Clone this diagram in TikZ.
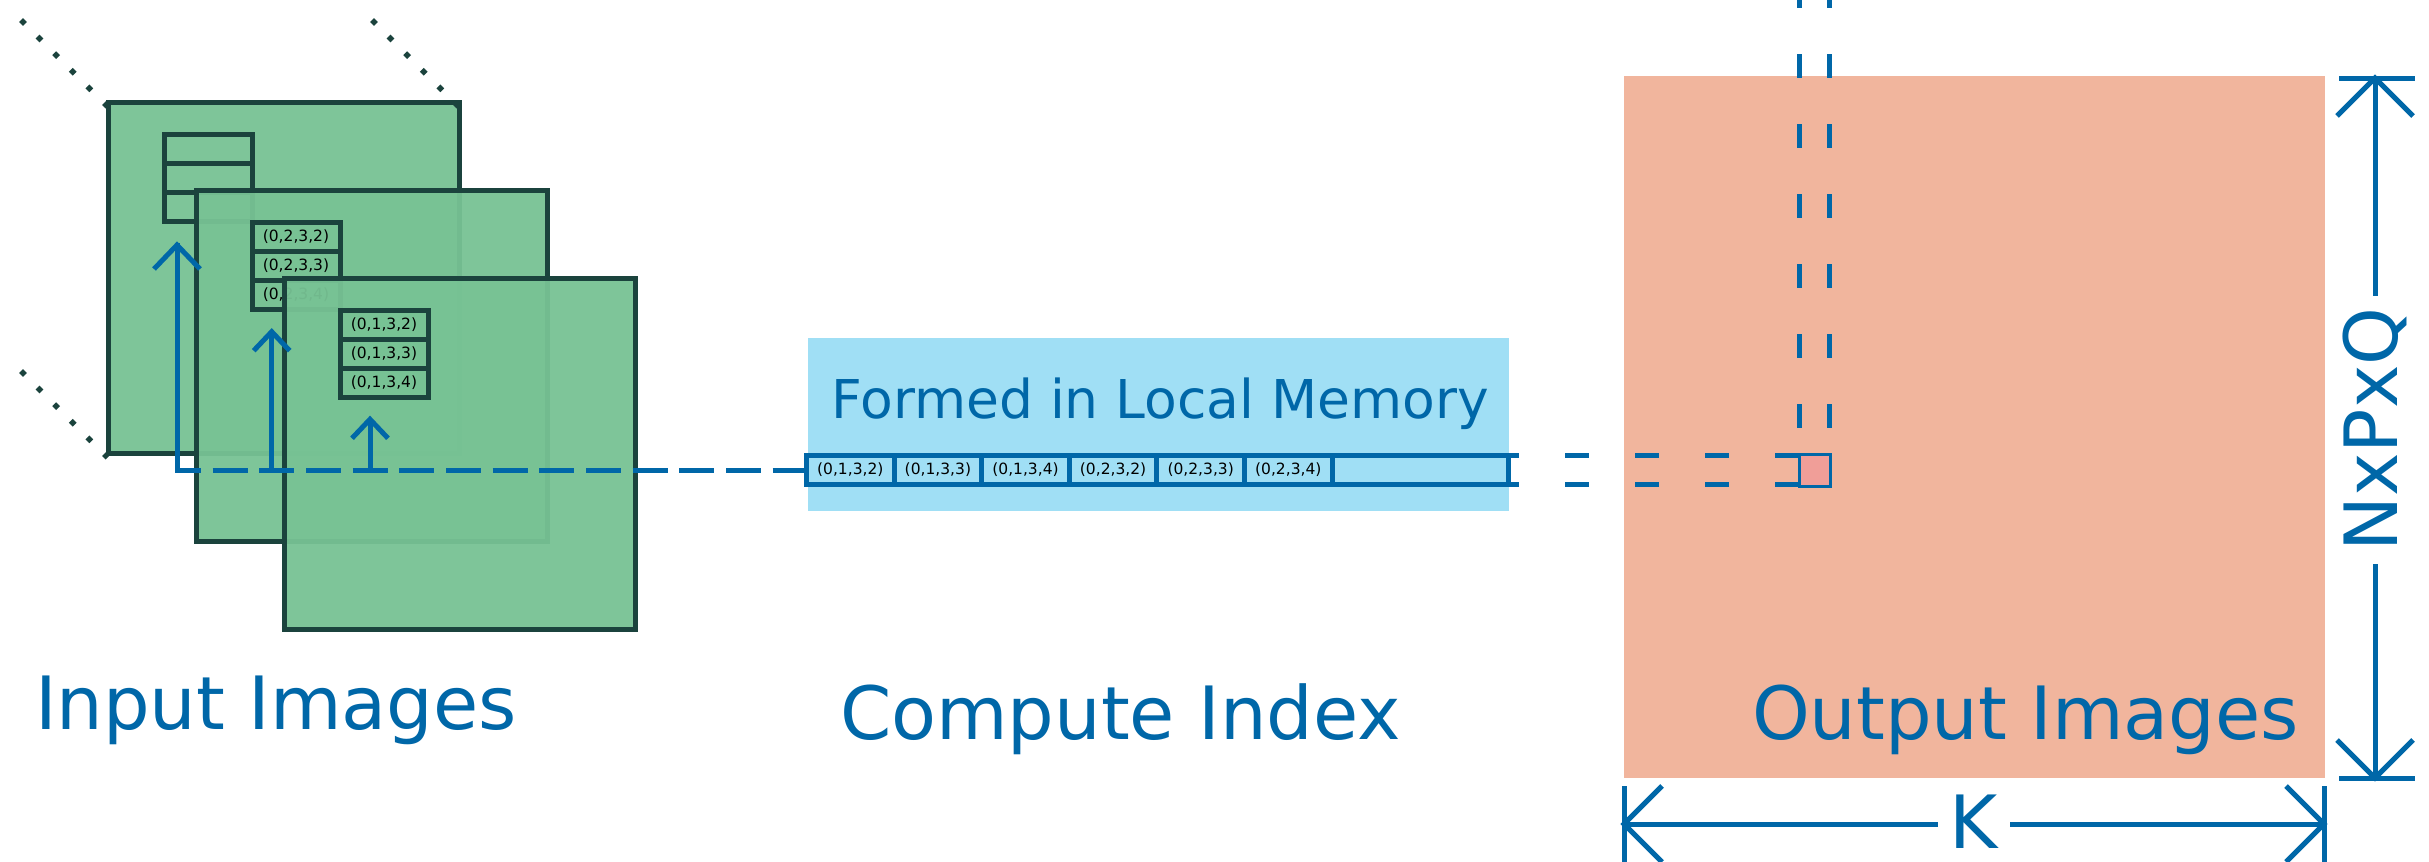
\documentclass[tikz,border=0pt]{standalone}
\usepackage{fontspec}
\setmainfont{DejaVu Sans}
\usetikzlibrary{calc}

\definecolor{ink}{RGB}{0,103,168}
\definecolor{frame}{RGB}{27,67,61}
\definecolor{leaf}{RGB}{119,194,148}
\definecolor{sky}{RGB}{160,223,245}
\definecolor{salmon}{RGB}{241,181,157}
\definecolor{rose}{RGB}{240,158,152}

\tikzset{
  every node/.style={inner sep=0pt, outer sep=0pt},
  plate/.style={draw=frame, line width=5pt, fill=leaf, fill opacity=0.95,
    minimum width=351pt, minimum height=351pt},
  slot/.style={draw=frame, line width=5pt, minimum width=88pt, minimum height=29pt,
    text=black, font=\fontsize{15.5}{18}\selectfont},
  memcell/.style={draw=ink, line width=5pt, minimum width=87.6pt, minimum height=28.5pt,
    text=black, font=\fontsize{15.5}{18}\selectfont},
  blueline/.style={draw=ink, line width=5pt},
  dotrow/.style={draw=frame, line width=5.5pt, dash pattern=on 5.5pt off 17.98pt},
  gather/.style={blueline, dash pattern=on 35pt off 11.67pt, dash phase=11pt},
  twin/.style={blueline, dash pattern=on 23.5pt off 46.5pt},
  biglabel/.style={text=ink, font=\fontsize{73.5}{80}\selectfont},
  midlabel/.style={text=ink, font=\fontsize{53.5}{60}\selectfont},
  dimlabel/.style={biglabel, inner xsep=12pt},
}

\begin{document}
\begin{tikzpicture}[x=1pt, y=-1pt]
\useasboundingbox (0,0) rectangle (2429,862);

% ---------- stacked input images ----------
\node[plate] (sq1) at (283.5,277.5) {};
\foreach \j [count=\r] in {148.5,177.5,206.5}
  \node[slot] (ta\r) at (208,\j) {};

\node[plate] (sq2) at (371.5,365.5) {};
\node[slot] (tb1) at (296,236.5) {(0,2,3,2)};
\node[slot] (tb2) at (296,265.5) {(0,2,3,3)};
\node[slot] (tb3) at (296,294.5) {(0,2,3,4)};

\node[plate] (sq3) at (459.5,453.5) {};
\node[slot] (tc1) at (384,324.5) {(0,1,3,2)};
\node[slot] (tc2) at (384,353.5) {(0,1,3,3)};
\node[slot] (tc3) at (384,382.5) {(0,1,3,4)};

% perspective dots behind the stack
\draw[dotrow] ($(sq1.north west)+(-87,-82)$) -- ($(sq1.north west)+(-0.4,4.6)$);
\draw[dotrow] ($(sq1.north east)+(-87,-82)$) -- ($(sq1.north east)+(-0.4,4.6)$);
\draw[dotrow] ($(sq1.south west)+(-87,-82)$) -- ($(sq1.south west)+(-0.4,4.6)$);

% ---------- local memory strip ----------
\node[fill=sky, minimum width=701pt, minimum height=173pt] (mem) at (1158.5,424.5) {};
\node[midlabel, anchor=base west] (memlbl) at (831.5,418.7) {Formed in Local Memory};

\node[memcell] (c1) at (850.3,470) {(0,1,3,2)};
\node[memcell] (c2) at (937.9,470) {(0,1,3,3)};
\node[memcell] (c3) at (1025.5,470) {(0,1,3,4)};
\node[memcell] (c4) at (1113.1,470) {(0,2,3,2)};
\node[memcell] (c5) at (1200.7,470) {(0,2,3,3)};
\node[memcell] (c6) at (1288.3,470) {(0,2,3,4)};
\node[memcell, minimum width=175.9pt] (c7) at (1420.05,470) {};

% ---------- output images ----------
\node[fill=salmon, minimum width=701pt, minimum height=702pt] (out) at (1974.5,427) {};
\node[draw=ink, line width=3pt, fill=rose, minimum width=31pt, minimum height=32pt] (px) at (1814.7,470.5) {};

% column of the output pixel
\draw[twin] ($(px.north west)+(0,-27)$) -- ($(px.north west)+(0,-480)$);
\draw[twin] ($(px.north east)+(-1,-27)$) -- ($(px.north east)+(-1,-480)$);
% row leading from the strip to the pixel
\draw[twin] ($(c7.north east)+(-13,0)$) -- (px.west |- c7.north east);
\draw[twin] ($(c7.south east)+(-13,0)$) -- (px.west |- c7.south east);

% ---------- gather arrows ----------
\coordinate (bend) at (177,470);
\coordinate (a1) at (177,245);
\coordinate (b2) at (271.7,470);
\coordinate (a2) at (271.7,331.7);
\coordinate (b3) at (370,470);
\coordinate (a3) at (370,419.3);

\draw[gather] (bend) -- (c1.west);
\draw[blueline, line cap=rect] (bend) -- (a1);
\draw[blueline] (a1) ++(-23,24) -- (a1) -- ++(23,24);
\draw[blueline] (b2) -- (a2);
\draw[blueline] (a2) ++(-18,19) -- (a2) -- ++(18,19);
\draw[blueline] (b3) -- (a3);
\draw[blueline] (a3) ++(-18,19) -- (a3) -- ++(18,19);

% ---------- labels ----------
\node[biglabel, anchor=base west] (inlbl) at (35,729) {Input Images};
\node[biglabel, anchor=base west] (cilbl) at (840,739.3) {Compute Index};
\node[biglabel, anchor=base west] (outlbl) at (1752,739.3) {Output Images};

% ---------- dimension K ----------
\coordinate (kL) at (1624,824);
\coordinate (kR) at (2324,824);
\node[dimlabel] (K) at (1974,822) {K};
\draw[blueline] (1624,786) -- (1624,872);
\draw[blueline] (2324,786) -- (2324,872);
\draw[blueline] (kL) -- (K.west |- kL);
\draw[blueline] (K.east |- kR) -- (kR);
\draw[blueline] (kL) ++(38,-38) -- (kL) -- ++(38,38);
\draw[blueline] (kR) ++(-38,-38) -- (kR) -- ++(-38,38);

% ---------- dimension NxPxQ ----------
\coordinate (qT) at (2375,78);
\coordinate (qB) at (2375,778);
\node[dimlabel, rotate=90] (NQ) at (2375,429.7) {NxPxQ};
\draw[blueline] (2339,78) -- (2415,78);
\draw[blueline] (2339,778) -- (2415,778);
\draw[blueline] (qT) -- (qT |- NQ.east);
\draw[blueline] (qB) -- (qB |- NQ.west);
\draw[blueline] (qT) ++(-38,38) -- (qT) -- ++(38,38);
\draw[blueline] (qB) ++(-38,-38) -- (qB) -- ++(38,-38);
\end{tikzpicture}
\end{document}
